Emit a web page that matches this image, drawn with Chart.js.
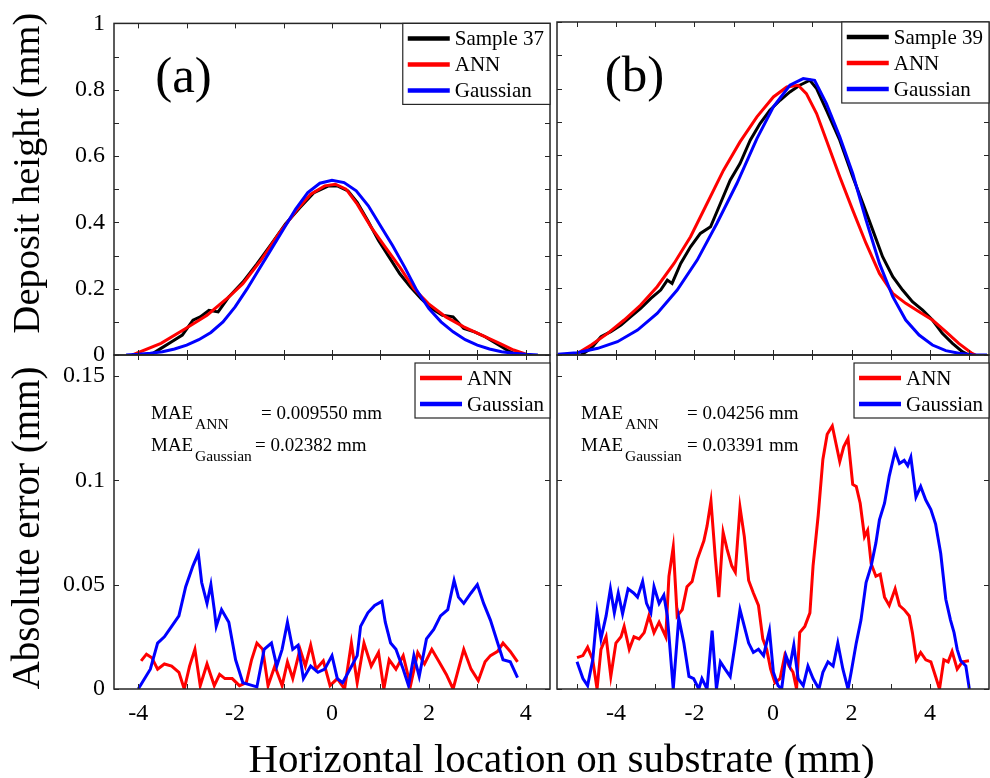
<!DOCTYPE html>
<html>
<head>
<meta charset="utf-8">
<title>Deposit profiles and absolute error</title>
<script src="https://cdn.jsdelivr.net/npm/chart.js@4.4.1/dist/chart.umd.min.js"></script>
<style>
  body { margin: 0; background: #fff; }
  #fig { position: relative; width: 990px; height: 778px; background: #fff; }
  #fig canvas { position: absolute; left: 0; top: 0; }
</style>
</head>
<body>
<div id="fig">
  <canvas id="heightA" width="990" height="778"></canvas>
  <canvas id="errorA" width="990" height="778"></canvas>
  <canvas id="heightB" width="990" height="778"></canvas>
  <canvas id="errorB" width="990" height="778"></canvas>
</div>
<script>
// ---- sample 37 : deposit height (mm) ----
const xSample37 = [-3.75,-3.53,-3.31,-3.09,-2.87,-2.72,-2.54,-2.35,-2.13,-1.84,-1.55,-1.25,-0.96,-0.66,-0.37,-0.07,0.11,0.33,0.52,0.74,0.96,1.18,1.40,1.62,1.84,2.06,2.28,2.50,2.72,2.94,3.16,3.39,3.61,3.75];
const ySample37 = [0,0.02,0.04,0.06,0.105,0.115,0.135,0.13,0.175,0.22,0.275,0.335,0.395,0.445,0.49,0.51,0.51,0.495,0.46,0.405,0.345,0.295,0.245,0.205,0.17,0.14,0.12,0.115,0.08,0.07,0.055,0.035,0.015,0.005];
const xAnn37 = [-4.12,-3.53,-3.02,-2.58,-2.13,-1.84,-1.47,-1.10,-0.74,-0.44,-0.15,0.07,0.29,0.52,0.81,1.10,1.40,1.69,1.99,2.35,2.72,3.09,3.46,3.75,4.05];
const yAnn37 = [0,0.035,0.08,0.12,0.175,0.215,0.285,0.365,0.435,0.485,0.51,0.515,0.50,0.455,0.385,0.325,0.265,0.20,0.155,0.115,0.085,0.06,0.035,0.015,0];
const xGauss37 = [-4.25,-4,-3.75,-3.5,-3.25,-3,-2.75,-2.5,-2.25,-2,-1.75,-1.5,-1.25,-1,-0.75,-0.5,-0.25,0,0.25,0.5,0.75,1,1.25,1.5,1.75,2,2.25,2.5,2.75,3,3.25,3.5,3.75,4,4.25];
const yGauss37 = [0,0.002,0.005,0.01,0.018,0.03,0.046,0.068,0.10,0.145,0.20,0.26,0.32,0.38,0.44,0.49,0.518,0.527,0.52,0.495,0.45,0.39,0.33,0.265,0.195,0.14,0.10,0.07,0.046,0.03,0.018,0.01,0.005,0.002,0];

// ---- sample 39 : deposit height (mm) ----
const xSample39 = [-4.89,-4.63,-4.38,-4.13,-3.87,-3.62,-3.37,-3.11,-2.86,-2.69,-2.57,-2.35,-2.10,-1.85,-1.59,-1.34,-1.09,-0.84,-0.58,-0.33,-0.08,0.18,0.43,0.68,0.94,1.11,1.36,1.70,2.03,2.29,2.54,2.79,3.05,3.30,3.55,3.81,4.06,4.31,4.57,4.82,4.99];
const ySample39 = [0,0.02,0.055,0.07,0.09,0.115,0.14,0.17,0.195,0.225,0.215,0.275,0.325,0.365,0.385,0.455,0.525,0.575,0.645,0.695,0.735,0.765,0.79,0.81,0.825,0.80,0.735,0.645,0.535,0.455,0.375,0.295,0.235,0.195,0.16,0.135,0.105,0.065,0.035,0.01,0];
const xAnn39 = [-5.05,-4.63,-4.21,-3.79,-3.37,-2.95,-2.52,-2.10,-1.68,-1.26,-0.84,-0.41,0.01,0.35,0.64,0.85,1.11,1.36,1.70,2.03,2.37,2.71,3.05,3.38,3.72,4.06,4.40,4.73,5.07,5.16];
const yAnn39 = [0,0.03,0.065,0.105,0.15,0.205,0.275,0.355,0.455,0.555,0.64,0.715,0.775,0.805,0.81,0.785,0.725,0.645,0.535,0.435,0.335,0.245,0.185,0.155,0.13,0.105,0.07,0.035,0.005,0];
const xGauss39 = [-5.48,-4.99,-4.46,-3.96,-3.45,-2.95,-2.44,-1.93,-1.43,-0.92,-0.41,0.01,0.43,0.77,1.06,1.36,1.70,2.03,2.37,2.71,3.05,3.38,3.72,4.06,4.40,4.73,5.07,5.45];
const yGauss39 = [0.002,0.007,0.02,0.04,0.075,0.125,0.195,0.285,0.395,0.515,0.65,0.745,0.81,0.83,0.825,0.755,0.655,0.545,0.405,0.275,0.175,0.105,0.06,0.03,0.013,0.005,0.001,0];

// ---- absolute error (mm) ----
const xErrAnn37 = [-3.94,-3.83,-3.72,-3.6,-3.46,-3.31,-3.16,-3.05,-2.94,-2.83,-2.72,-2.58,-2.43,-2.32,-2.21,-2.06,-1.91,-1.77,-1.66,-1.55,-1.43,-1.32,-1.18,-1.03,-0.92,-0.81,-0.66,-0.55,-0.44,-0.33,-0.18,-0.04,0.11,0.26,0.40,0.52,0.66,0.81,0.96,1.07,1.18,1.32,1.47,1.62,1.77,1.91,2.06,2.21,2.36,2.50,2.61,2.72,2.87,3.02,3.16,3.27,3.42,3.53,3.68,3.83];
const yErrAnn37 = [0.0135,0.0167,0.015,0.0095,0.012,0.011,0.008,0,0.011,0.019,0.0016,0.012,0.0016,0.007,0.005,0.005,0.0016,0.003,0.014,0.022,0.019,0.0016,0.011,0.0016,0.013,0.005,0.019,0.011,0.021,0.0095,0.0135,0.0016,0.005,0,0.022,0.003,0.022,0.011,0.0175,0,0.014,0.0095,0.016,0.0016,0.0175,0.012,0.019,0.013,0.007,0,0.0095,0.019,0.0095,0.004,0.013,0.016,0.018,0.022,0.018,0.013];
const xErrGauss37 = [-4.0,-3.75,-3.6,-3.46,-3.31,-3.16,-3.02,-2.87,-2.76,-2.69,-2.58,-2.5,-2.43,-2.39,-2.28,-2.13,-1.99,-1.84,-1.69,-1.55,-1.4,-1.25,-1.14,-1.03,-0.92,-0.81,-0.70,-0.59,-0.44,-0.29,-0.15,0,0.11,0.22,0.37,0.52,0.59,0.74,0.88,1.03,1.10,1.21,1.32,1.47,1.58,1.69,1.80,1.95,2.10,2.24,2.39,2.52,2.61,2.72,2.87,3.0,3.13,3.27,3.42,3.53,3.68,3.83];
const yErrGauss37 = [0,0.0095,0.022,0.025,0.030,0.035,0.049,0.059,0.065,0.051,0.041,0.05,0.038,0.030,0.038,0.032,0.014,0.003,0.002,0.001,0.019,0.022,0.011,0.019,0.032,0.019,0.021,0.005,0.011,0.008,0.0095,0.016,0.005,0.003,0.0095,0.016,0.030,0.0365,0.040,0.042,0.032,0.022,0.019,0.0095,0.0016,0.016,0.006,0.024,0.0285,0.035,0.038,0.052,0.044,0.041,0.046,0.050,0.041,0.033,0.022,0.014,0.013,0.0055];
const xErrAnn39 = [-4.99,-4.84,-4.72,-4.59,-4.48,-4.38,-4.25,-4.13,-4.0,-3.87,-3.79,-3.66,-3.54,-3.41,-3.28,-3.16,-3.03,-2.90,-2.73,-2.65,-2.54,-2.44,-2.31,-2.19,-2.06,-1.93,-1.76,-1.68,-1.58,-1.47,-1.38,-1.27,-1.17,-1.05,-0.96,-0.84,-0.73,-0.62,-0.50,-0.37,-0.26,-0.16,-0.06,0.05,0.18,0.30,0.41,0.51,0.60,0.68,0.81,0.94,1.02,1.15,1.27,1.38,1.51,1.61,1.70,1.80,1.91,2.03,2.12,2.22,2.33,2.41,2.50,2.62,2.73,2.84,2.96,3.11,3.22,3.34,3.47,3.55,3.65,3.76,3.89,4.02,4.14,4.24,4.35,4.46,4.56,4.69,4.82,4.99];
const yErrAnn39 = [0.015,0.016,0.020,0.014,0,0.019,0.025,0.006,0.022,0.025,0.030,0.019,0.025,0.024,0.027,0.035,0.027,0.032,0.025,0.054,0.068,0.035,0.038,0.049,0.0515,0.062,0.071,0.078,0.090,0.063,0.044,0.075,0.067,0.059,0.056,0.087,0.073,0.052,0.046,0.040,0.024,0.019,0.0095,0.003,0.005,0.016,0.011,0.008,0,0.027,0.030,0.0365,0.059,0.083,0.11,0.122,0.126,0.117,0.109,0.116,0.120,0.098,0.097,0.089,0.073,0.076,0.060,0.054,0.055,0.044,0.040,0.048,0.040,0.038,0.035,0.027,0.014,0.0175,0.014,0.013,0.006,0,0.014,0.013,0.018,0.0095,0.013,0.0135];
const xErrGauss39 = [-4.99,-4.84,-4.72,-4.59,-4.48,-4.38,-4.25,-4.14,-4.04,-3.94,-3.83,-3.69,-3.55,-3.45,-3.32,-3.22,-3.11,-3.03,-2.90,-2.78,-2.69,-2.54,-2.40,-2.27,-2.14,-2.02,-1.89,-1.81,-1.68,-1.55,-1.44,-1.34,-1.22,-1.09,-0.96,-0.84,-0.73,-0.62,-0.50,-0.37,-0.24,-0.09,0.01,0.13,0.22,0.33,0.43,0.53,0.64,0.77,0.89,1.02,1.17,1.27,1.40,1.53,1.65,1.78,1.91,1.99,2.12,2.24,2.37,2.50,2.62,2.71,2.84,2.96,3.11,3.22,3.34,3.43,3.51,3.64,3.76,3.89,4.02,4.14,4.27,4.40,4.52,4.61,4.69,4.78,4.91,5.0];
const yErrGauss39 = [0.013,0.005,0.0016,0.014,0.0365,0.024,0.035,0.048,0.0365,0.046,0.036,0.048,0.046,0.044,0.0515,0.041,0.0365,0.049,0.041,0.045,0.035,0,0.034,0.022,0.006,0.005,0,0.005,0,0.028,0,0.013,0.0095,0.006,0.022,0.038,0.030,0.022,0.0175,0.019,0.016,0.028,0.008,0.0016,0,0.016,0.011,0.021,0.005,0.0016,0.011,0.005,0,0.008,0.013,0.011,0.022,0.0095,0,0.008,0.022,0.033,0.051,0.059,0.070,0.081,0.089,0.102,0.114,0.108,0.1095,0.107,0.111,0.092,0.097,0.0905,0.086,0.079,0.065,0.043,0.033,0.027,0.019,0.0135,0.011,0];

// ---- ticks ----
const xTickValues = [-4, -2, 0, 2, 4];
const xTickLabels = ['-4', '-2', '0', '2', '4'];
const xMarks37 = [-4, -3, -2, -1, 0, 1, 2, 3, 4];
const xMarks39 = [-5, -4, -3, -2, -1, 0, 1, 2, 3, 4, 5];
const heightTickValues = [0, 0.2, 0.4, 0.6, 0.8, 1];
const heightTickLabels = ['0', '0.2', '0.4', '0.6', '0.8', '1'];
const heightMarks = [0, 0.1, 0.2, 0.3, 0.4, 0.5, 0.6, 0.7, 0.8, 0.9, 1];
const errorTickValues = [0, 0.05, 0.1, 0.15];
const errorTickLabels = ['0', '0.05', '0.1', '0.15'];

const SERIF = '"Liberation Serif", "Times New Roman", serif';
const FRAME = '#262626';

// box around the plot area with inward ticks on all four sides
const framePlugin = {
    id: 'frame',
    afterDatasetsDraw(chart, args, opts) {
        const { ctx, chartArea: a, scales } = chart;
        ctx.save();
        ctx.strokeStyle = FRAME;
        ctx.lineWidth = 1;
        ctx.beginPath();
        opts.xMarks.forEach(v => {
            const px = Math.round(scales.x.getPixelForValue(v)) + 0.5;
            ctx.moveTo(px, a.bottom); ctx.lineTo(px, a.bottom - 5);
            ctx.moveTo(px, a.top); ctx.lineTo(px, a.top + 5);
        });
        opts.yMarks.forEach(v => {
            const py = Math.round(scales.y.getPixelForValue(v)) + 0.5;
            ctx.moveTo(a.left, py); ctx.lineTo(a.left + 5, py);
            ctx.moveTo(a.right, py); ctx.lineTo(a.right - 5, py);
        });
        ctx.stroke();
        ctx.lineWidth = 1.5;
        ctx.strokeRect(a.left, a.top, a.right - a.left, a.bottom - a.top);
        ctx.restore();
    }
};

// matlab-like legend box in the top right corner
const boxLegend = {
    id: 'boxLegend',
    afterDraw(chart, args, opts) {
        const { ctx, chartArea: a } = chart;
        const sets = chart.data.datasets;
        ctx.save();
        ctx.font = '21px ' + SERIF;
        const tw = Math.max(...sets.map(d => ctx.measureText(d.label).width));
        const rowH = 26;
        const w = 5 + 42 + 5 + tw + 6;
        const h = rowH * sets.length + 3;
        const left = a.right - w;
        const top = a.top + opts.offsetY;
        ctx.fillStyle = '#fff';
        ctx.fillRect(left, top, w, h);
        ctx.strokeStyle = FRAME;
        ctx.lineWidth = 1.2;
        ctx.strokeRect(left, top, w, h);
        sets.forEach((d, i) => {
            const cy = top + 2 + rowH * (i + 0.5);
            ctx.strokeStyle = d.borderColor;
            ctx.lineWidth = 4.5;
            ctx.beginPath();
            ctx.moveTo(left + 5, cy);
            ctx.lineTo(left + 47, cy);
            ctx.stroke();
            ctx.fillStyle = '#000';
            ctx.textBaseline = 'middle';
            ctx.fillText(d.label, left + 52, cy + 1);
        });
        ctx.restore();
    }
};

// free text: panel letters, axis titles, MAE notes
const notesPlugin = {
    id: 'notes',
    afterDraw(chart, args, opts) {
        const ctx = chart.ctx;
        (opts.items || []).forEach(n => {
            ctx.save();
            ctx.font = n.size + 'px ' + SERIF;
            ctx.fillStyle = '#000';
            ctx.textAlign = n.align || 'left';
            ctx.textBaseline = 'alphabetic';
            ctx.translate(n.x, n.y);
            if (n.rot) ctx.rotate(n.rot);
            ctx.fillText(n.text, 0, 0);
            ctx.restore();
        });
    }
};

function series(label, xs, ys, color, order) {
    return {
        label: label,
        data: xs.map((x, i) => ({ x: x, y: ys[i] })),
        borderColor: color,
        backgroundColor: color,
        borderWidth: 3,
        pointRadius: 0,
        tension: 0,
        fill: false,
        order: order
    };
}

function panel(canvasId, datasets, p) {
    const tickFont = { family: SERIF, size: 24 };
    const xScale = {
        type: 'linear',
        min: p.xMin,
        max: p.xMax,
        display: p.showX,
        grid: { display: false, drawTicks: false },
        border: { display: false },
        afterBuildTicks: s => { s.ticks = xTickValues.map(v => ({ value: v })); },
        ticks: {
            autoSkip: false, maxRotation: 0, padding: 10, color: '#000', font: tickFont,
            callback: (v, i) => xTickLabels[i]
        }
    };
    if (p.showX) xScale.afterFit = s => { s.height = 40; };
    const yScale = {
        type: 'linear',
        min: 0,
        max: p.yMax,
        display: p.showY,
        grid: { display: false, drawTicks: false },
        border: { display: false },
        afterBuildTicks: s => { s.ticks = p.yTicks.map(v => ({ value: v })); },
        ticks: {
            autoSkip: false, padding: 9, color: '#000', font: tickFont,
            callback: (v, i) => p.yLabels[i]
        }
    };
    if (p.showY) yScale.afterFit = s => { s.width = 60; };

    return new Chart(document.getElementById(canvasId), {
        type: 'line',
        data: { datasets: datasets },
        options: {
            responsive: false,
            animation: false,
            devicePixelRatio: 1,
            layout: { padding: p.padding },
            scales: { x: xScale, y: yScale },
            plugins: {
                legend: { display: false },
                tooltip: { enabled: false },
                frame: { xMarks: p.xMarks, yMarks: p.yMarks },
                boxLegend: { offsetY: p.legendOffset },
                notes: { items: p.notes }
            }
        },
        plugins: [framePlugin, boxLegend, notesPlugin]
    });
}

// (a) deposit height
panel('heightA', [
    series('Sample 37', xSample37, ySample37, '#000000', 3),
    series('ANN', xAnn37, yAnn37, '#ff0000', 2),
    series('Gaussian', xGauss37, yGauss37, '#0000ff', 1)
], {
    xMin: -4.5, xMax: 4.5, yMax: 1, showX: false, showY: true,
    yTicks: heightTickValues, yLabels: heightTickLabels,
    xMarks: xMarks37, yMarks: heightMarks, legendOffset: 0,
    padding: { left: 54, top: 22, right: 440, bottom: 423 },
    notes: [
        { text: '(a)', x: 183.5, y: 92, size: 51, align: 'center' },
        { text: 'Deposit height (mm)', x: 39, y: 173, size: 38.5, align: 'center', rot: -Math.PI / 2 }
    ]
});

// (a) absolute error
panel('errorA', [
    series('ANN', xErrAnn37, yErrAnn37, '#ff0000', 2),
    series('Gaussian', xErrGauss37, yErrGauss37, '#0000ff', 1)
], {
    xMin: -4.5, xMax: 4.5, yMax: 0.16, showX: true, showY: true,
    yTicks: errorTickValues, yLabels: errorTickLabels,
    xMarks: xMarks37, yMarks: errorTickValues, legendOffset: 8,
    padding: { left: 54, top: 355, right: 440, bottom: 49 },
    notes: [
        { text: 'Absolute error (mm)', x: 39, y: 528, size: 39, align: 'center', rot: -Math.PI / 2 },
        { text: 'Horizontal location on substrate (mm)', x: 561.5, y: 772, size: 41, align: 'center' },
        { text: 'MAE', x: 151, y: 419, size: 19 },
        { text: 'ANN', x: 195, y: 429, size: 15.5 },
        { text: '= 0.009550 mm', x: 261, y: 419, size: 19 },
        { text: 'MAE', x: 151, y: 451, size: 19 },
        { text: 'Gaussian', x: 195, y: 461, size: 15.5 },
        { text: '= 0.02382 mm', x: 255, y: 451, size: 19 }
    ]
});

// (b) deposit height
panel('heightB', [
    series('Sample 39', xSample39, ySample39, '#000000', 3),
    series('ANN', xAnn39, yAnn39, '#ff0000', 2),
    series('Gaussian', xGauss39, yGauss39, '#0000ff', 1)
], {
    xMin: -5.5, xMax: 5.5, yMax: 1, showX: false, showY: false,
    yTicks: heightTickValues, yLabels: heightTickLabels,
    xMarks: xMarks39, yMarks: heightMarks, legendOffset: 0,
    padding: { left: 557, top: 22, right: 1, bottom: 423 },
    notes: [
        { text: '(b)', x: 634.5, y: 91, size: 51, align: 'center' }
    ]
});

// (b) absolute error
panel('errorB', [
    series('ANN', xErrAnn39, yErrAnn39, '#ff0000', 2),
    series('Gaussian', xErrGauss39, yErrGauss39, '#0000ff', 1)
], {
    xMin: -5.5, xMax: 5.5, yMax: 0.16, showX: true, showY: false,
    yTicks: errorTickValues, yLabels: errorTickLabels,
    xMarks: xMarks39, yMarks: errorTickValues, legendOffset: 8,
    padding: { left: 557, top: 355, right: 1, bottom: 49 },
    notes: [
        { text: 'MAE', x: 581, y: 419, size: 19 },
        { text: 'ANN', x: 625, y: 429, size: 15.5 },
        { text: '= 0.04256 mm', x: 687, y: 419, size: 19 },
        { text: 'MAE', x: 581, y: 451, size: 19 },
        { text: 'Gaussian', x: 625, y: 461, size: 15.5 },
        { text: '= 0.03391 mm', x: 687, y: 451, size: 19 }
    ]
});
</script>
</body>
</html>
